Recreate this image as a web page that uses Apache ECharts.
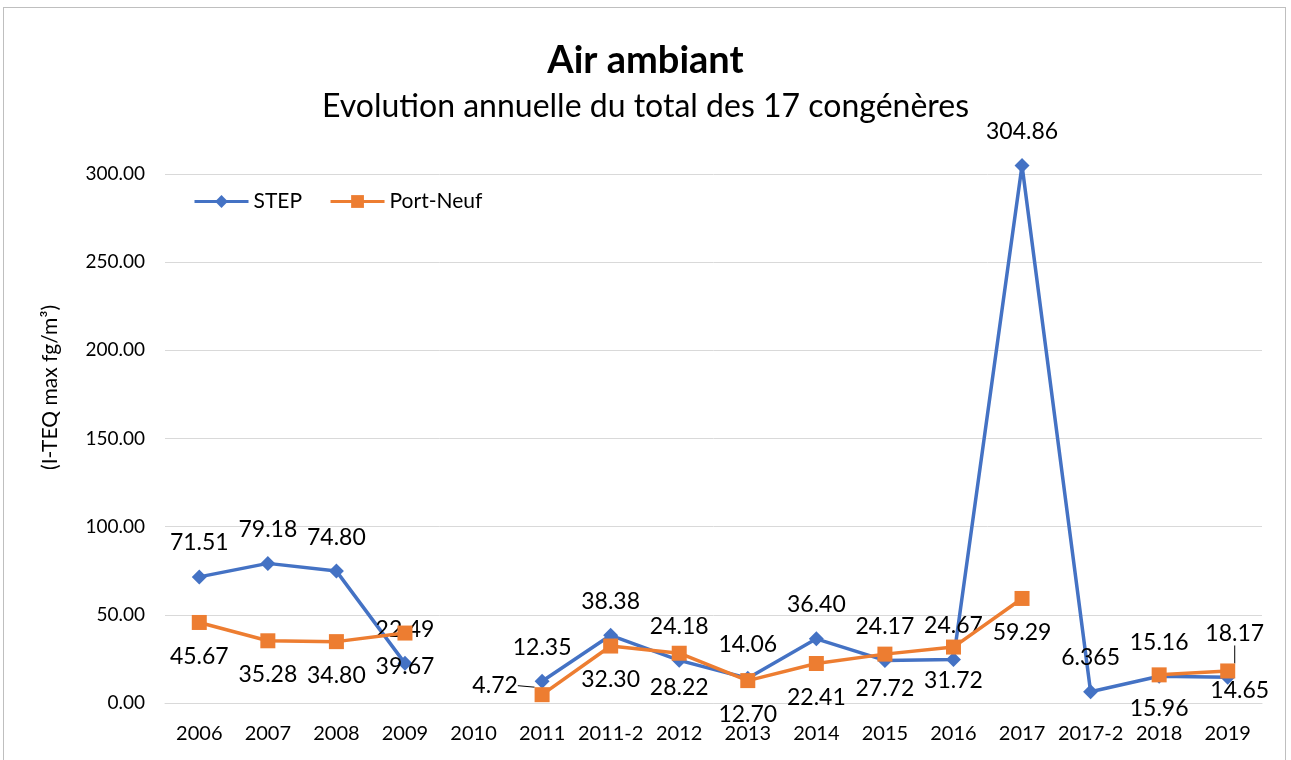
<!DOCTYPE html>
<html>
<head>
<meta charset="utf-8">
<script src="https://cdn.jsdelivr.net/npm/echarts@6/dist/echarts.min.js"></script>
<style>
  html, body { margin: 0; padding: 0; background: #fff; }
  #frame { position: absolute; left: 3px; top: 7px; width: 1283px; height: 800px; border: 1px solid #bfbfbf; box-sizing: border-box; }
  #chart { position: absolute; left: 0; top: 0; width: 1291px; height: 760px; }
</style>
</head>
<body>
<div id="frame"></div>
<div id="chart"></div>
<script>
const categories = ['2006', '2007', '2008', '2009', '2010', '2011', '2011-2', '2012', '2013', '2014', '2015', '2016', '2017', '2017-2', '2018', '2019']
const stepValues = [71.51, 79.18, 74.80, 22.49, '-', 12.35, 38.38, 24.18, 14.06, 36.40, 24.17, 24.67, 304.86, 6.365, 15.16, 14.65]
const portNeufValues = [45.67, 35.28, 34.80, 39.67, '-', 4.72, 32.30, 28.22, 12.70, 22.41, 27.72, 31.72, 59.29, '-', 15.96, 18.17]
const yTicks = [0, 50, 100, 150, 200, 250, 300]

const FONT = 'Lato'

// keep at least two decimals, more if the value has them (6.365)
const fmt = (v) => {
    const dec = (String(v).split('.')[1] || '').length
    return v.toFixed(Math.max(2, dec))
}

const chart = echarts.init(document.getElementById('chart'), null, { renderer: 'canvas' })

// a few labels were moved by hand in the original
const stepData = stepValues.map((v, i) => {
    if (i === 15) {
        return { value: v, label: { position: 'bottom', distance: 0, offset: [12, -6] } }
    }
    return v
})
const portData = portNeufValues.map((v, i) => {
    if (i === 5 || i === 15) {
        return { value: v, labelLine: { show: true, lineStyle: { color: '#000', width: 1 } } }
    }
    return v
})

chart.setOption({
    animation: false,
    textStyle: { fontFamily: FONT },
    title: [
        { text: 'Air ambiant', left: 'center', top: 37, textStyle: { fontFamily: FONT, fontSize: 38, fontWeight: 'bold', color: '#000' } },
        { text: 'Evolution annuelle du total des 17 congénères', left: 'center', top: 86, textStyle: { fontFamily: FONT, fontSize: 32, fontWeight: 'normal', color: '#000' } }
    ],
    legend: {
        left: 188, top: 186,
        itemWidth: 54, itemHeight: 16, itemGap: 27,
        lineStyle: { width: 3 },
        textStyle: { fontFamily: FONT, fontSize: 21, color: '#000' },
        data: ['STEP', 'Port-Neuf']
    },
    grid: { left: 165, right: 29, top: 174, bottom: 57 },
    graphic: [{
        type: 'text', left: 40, top: 305, rotation: Math.PI / 2,
        style: { text: '(I-TEQ max fg/m³)', fontFamily: FONT, fontSize: 21, fill: '#000' }
    }],
    xAxis: {
        type: 'category',
        data: categories,
        boundaryGap: true,
        axisLine: { lineStyle: { color: '#d9d9d9', width: 1 } },
        axisTick: { show: false },
        axisLabel: { color: '#000', fontSize: 20, fontFamily: FONT, margin: 21, interval: 0 }
    },
    yAxis: {
        type: 'value',
        min: yTicks[0], max: yTicks[yTicks.length - 1], interval: 50,
        axisLine: { show: false },
        axisTick: { show: false },
        splitLine: { lineStyle: { color: '#d9d9d9', width: 1 } },
        axisLabel: { color: '#000', fontSize: 19, fontFamily: FONT, margin: 20, formatter: (v) => v.toFixed(2) }
    },
    series: [
        {
            name: 'STEP', type: 'line', data: stepData,
            clip: false, connectNulls: false,
            symbol: 'diamond', symbolSize: 15,
            itemStyle: { color: '#4472C4' },
            lineStyle: { color: '#4472C4', width: 3.5 },
            label: { show: true, position: 'top', distance: 15, color: '#000', fontSize: 23, fontFamily: FONT, formatter: (p) => fmt(p.value) },
            z: 3
        },
        {
            name: 'Port-Neuf', type: 'line', data: portData,
            clip: false, connectNulls: false,
            symbol: 'rect', symbolSize: 15,
            itemStyle: { color: '#ED7D31' },
            lineStyle: { color: '#ED7D31', width: 3.5 },
            label: { show: true, position: 'bottom', distance: 15, color: '#000', fontSize: 23, fontFamily: FONT, formatter: (p) => fmt(p.value) },
            labelLayout: (params) => {
                if (params.dataIndex === 5) return { dx: -47, dy: -43 }
                if (params.dataIndex === 15) return { dx: 7, dy: -71 }
                return {}
            },
            z: 4
        }
    ]
})
</script>
</body>
</html>
